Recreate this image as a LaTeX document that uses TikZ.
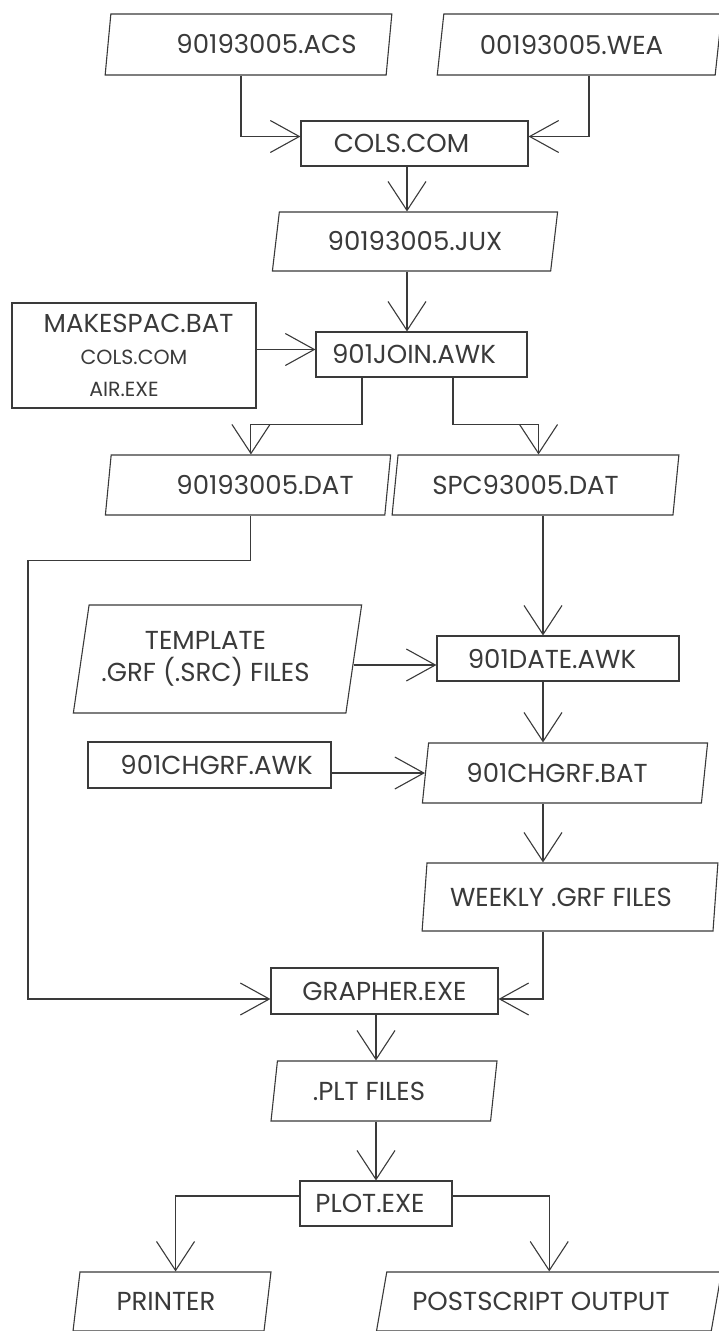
\documentclass[tikz,border=0pt]{standalone}
\usepackage{fontspec}
\setmainfont{Poppins}
\usetikzlibrary{shapes.geometric,arrows.meta}
\definecolor{ink}{HTML}{3A3A3A}
\begin{document}
\begin{tikzpicture}[x=1pt,y=-1pt,
  every node/.style={text=ink, font=\fontsize{26}{32}\selectfont, inner sep=0pt},
  proc/.style={draw=ink, line width=1.1pt, rectangle},
  data/.style={draw=ink, line width=1.1pt, trapezium, trapezium left angle=77,
    trapezium right angle=103, trapezium stretches},
  link/.style={draw=ink, line width=1.1pt},
  varr/.style={link, -{Straight Barb[length=29pt,width=38pt]}},
  harr/.style={link, -{Straight Barb[length=29pt,width=32pt]}}]
  \useasboundingbox (0,0) rectangle (719,1331);
  \clip (0,0) rectangle (719,1331);
  \fill[white] (0,0) rectangle (719,1331);

  \node[data, minimum width=287pt, minimum height=61pt] (acs) at (248.5,44.5) {\hspace*{36pt}90193005.ACS};
  \node[data, trapezium left angle=76, trapezium right angle=104,
    minimum width=285pt, minimum height=61pt] (wea) at (579.5,44.5) {00193005.WEA\hspace*{16pt}};
  \node[proc, minimum width=227pt, minimum height=45pt] (cols) at (414.5,143.5) {COLS.COM\hspace*{26pt}};
  \node[data, minimum width=286pt, minimum height=59pt] (jux) at (415,241.5) {90193005.JUX};

  \node[proc, minimum width=244pt, minimum height=105pt, align=center] (mks) at (134,355.5)
    {\hspace*{9pt}MAKESPAC.BAT\\
     {\fontsize{20.5}{32}\selectfont COLS.COM}\hspace*{9pt}\\
     {\fontsize{20.5}{32}\selectfont AIR.EXE}\hspace*{20pt}};
  \node[proc, minimum width=211pt, minimum height=45pt] (join) at (421.5,354.5) {901JOIN.AWK\hspace*{15pt}};

  \node[data, minimum width=286pt, minimum height=60pt] (dat) at (248,485) {\hspace*{34pt}90193005.DAT};
  \node[data, minimum width=287pt, minimum height=60pt] (spc) at (535.5,485) {SPC93005.DAT\hspace*{20pt}};

  \node[data, trapezium left angle=75.5, trapezium right angle=104.5,
    minimum width=289pt, minimum height=108pt, align=center] (tpl) at (217.5,659)
    {TEMPLATE\hspace*{24pt}\\.GRF (.SRC) FILES\hspace*{24pt}};
  \node[proc, minimum width=242pt, minimum height=45pt] (date) at (558,658.5) {901DATE.AWK\hspace*{12pt}};

  \node[proc, minimum width=243pt, minimum height=46pt] (awk) at (209.5,765) {\hspace*{14pt}901CHGRF.AWK};
  \node[data, minimum width=286pt, minimum height=60pt] (bat) at (565,773) {901CHGRF.BAT\hspace*{16pt}};
  \node[data, trapezium left angle=77.5, trapezium right angle=102.5,
    minimum width=296pt, minimum height=68pt] (wkl) at (570,897) {WEEKLY .GRF FILES\hspace*{18pt}};

  \node[proc, minimum width=227pt, minimum height=46pt] (grp) at (384.5,991) {GRAPHER.EXE};
  \node[data, minimum width=226pt, minimum height=60pt] (plt) at (384,1091) {.PLT FILES\hspace*{30pt}};
  \node[proc, minimum width=152pt, minimum height=45pt] (plot) at (376,1203.5) {PLOT.EXE\hspace*{12pt}};

  \node[data, minimum width=198pt, minimum height=59pt] (prn) at (172,1301.5) {PRINTER\hspace*{12pt}};
  \node[data, trapezium left angle=65, trapezium right angle=115,
    minimum width=346pt, minimum height=59pt] (pso) at (549,1301.5) {POSTSCRIPT OUTPUT\hspace*{16pt}};

  \coordinate (ax1) at (407,0);
  \coordinate (ax2) at (543,0);
  \coordinate (ax3) at (376,0);
  \coordinate (lft) at (28,0);

  % inputs to COLS.COM
  \draw[harr] ([xshift=-7.5pt]acs.south) |- ([yshift=7pt]cols.west);
  \draw[harr] ([xshift=9.5pt]wea.south) |- ([yshift=7pt]cols.east);
  \draw[varr] (cols.south -| ax1) -- (jux.north -| ax1);
  \draw[varr] (jux.south -| ax1) -- (join.north -| ax1);
  \draw[harr] ([yshift=6pt]mks.east) -- ([yshift=6pt]mks.east -| join.west);

  % split after 901JOIN.AWK
  \draw[varr] ([xshift=-59.5pt]join.south) -- ++(0,47) -| (dat.top side);
  \draw[varr] ([xshift=31.5pt]join.south) -- ++(0,47) -| (spc.top side);

  % right column
  \draw[varr] (spc.south -| ax2) -- (date.north -| ax2);
  \draw[harr] ([yshift=-6pt]tpl.right side) -- ([yshift=-6pt]tpl.right side -| date.west);
  \draw[varr] (date.south -| ax2) -- (bat.north -| ax2);
  \draw[harr] (awk.east |- bat.left side) -- (bat.left side);
  \draw[varr] (bat.south -| ax2) -- (wkl.north -| ax2);
  \draw[harr] (wkl.south -| ax2) |- ([yshift=-8pt]grp.east);
  \draw[harr] (dat.south -| dat.top side) -- ++(0,45)
    -| ([yshift=-8pt]grp.west -| lft) -- ([yshift=-8pt]grp.west);

  % output
  \draw[varr] (grp.south -| ax3) -- (plt.north -| ax3);
  \draw[varr] (plt.south -| ax3) -- (plot.north -| ax3);
  \draw[varr] ([yshift=7.5pt]plot.west) -| (prn.top side);
  \draw[varr] ([yshift=7.5pt]plot.east) -| ([xshift=-5pt]pso.top side);
\end{tikzpicture}
\end{document}
